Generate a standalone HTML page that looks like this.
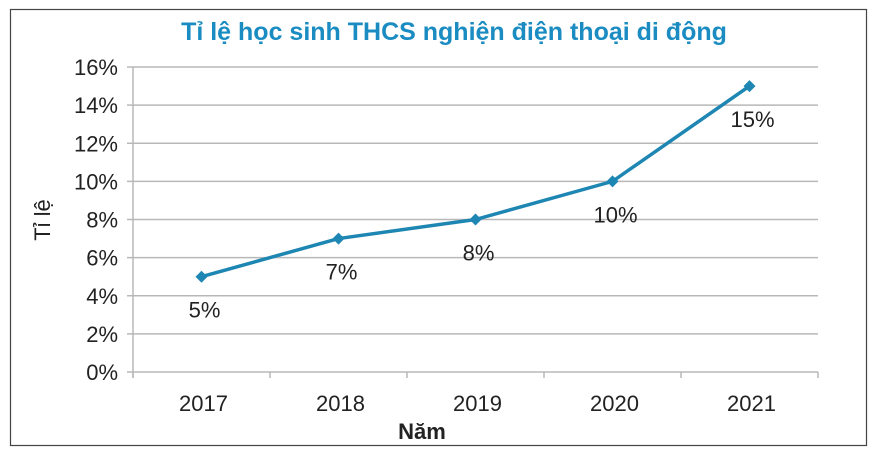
<!DOCTYPE html>
<html><head><meta charset="utf-8"><style>
body{margin:0;background:#fff;width:877px;height:458px;overflow:hidden;font-family:"Liberation Sans",sans-serif}
</style></head><body>
<svg width="877" height="458" xmlns="http://www.w3.org/2000/svg">
<rect x="10.5" y="9.5" width="856" height="436" fill="#fff" stroke="#444" stroke-width="1.2"/>
<text x="454" y="40" text-anchor="middle" font-size="25" font-weight="bold" fill="#1a8cc2">Tỉ lệ học sinh THCS nghiện điện thoại di động</text>
<g id="grid"></g>
<g id="marks"></g>
<text x="422" y="439" text-anchor="middle" font-size="22" font-weight="bold" fill="#222">Năm</text>
<text transform="translate(50,220) rotate(-90)" text-anchor="middle" font-size="22" fill="#222">Tỉ lệ</text>
</svg>
<script>
const categories=["2017","2018","2019","2020","2021"];
const values=[5,7,8,10,15];
const yTicks=[0,2,4,6,8,10,12,14,16];
const NS="http://www.w3.org/2000/svg";
const L=133,R=818,T=67,B=372,ymax=16;
const bw=(R-L)/categories.length;
const xs=i=>L+bw*(i+0.5);
const ys=v=>B-(v/ymax)*(B-T);
function mk(tag,attrs,parent,txt){const e=document.createElementNS(NS,tag);for(const k in attrs)e.setAttribute(k,attrs[k]);if(txt!==undefined)e.textContent=txt;parent.appendChild(e);return e;}
const g=document.getElementById('grid'),m=document.getElementById('marks');
yTicks.forEach(t=>{
 const y=ys(t);
 const ln=mk('line',{x1:L-6,x2:R,y1:y,y2:y,stroke:'#b8b8b8','stroke-width':1.5},g);
 
 
 const tx=mk('text',{x:L-15,y:y+8,'text-anchor':'end','font-size':22,fill:'#222'},g,t+'%');
 
 
});
const ax=mk('line',{x1:L,x2:L,y1:T,y2:B+6,stroke:'#b8b8b8','stroke-width':1.5},g);


for(let i=0;i<=categories.length;i++){
 const tk=mk('line',{x1:L+bw*i,x2:L+bw*i,y1:B,y2:B+6,stroke:'#b8b8b8','stroke-width':1.5},g);
 
 
}
categories.forEach((c,i)=>{
 const tx=mk('text',{x:xs(i)+2,y:411,'text-anchor':'middle','font-size':22,fill:'#222'},g,c);
 
 
});
const pts=values.map((v,i)=>xs(i)+','+ys(v)).join(' ');
const pl=mk('polyline',{points:pts,fill:'none',stroke:'#1e86b2','stroke-width':3.5,'stroke-linejoin':'round'},m);


values.forEach((v,i)=>{
 const x=xs(i),y=ys(v);
 const d=mk('polygon',{points:`${x},${y-6} ${x+6},${y} ${x},${y+6} ${x-6},${y}`,fill:'#1e86b2'},m);
 
 
 const lb=mk('text',{x:x+3,y:y+41,'text-anchor':'middle','font-size':22,fill:'#222'},m,v+'%');
 
 
});
</script>
</body></html>
